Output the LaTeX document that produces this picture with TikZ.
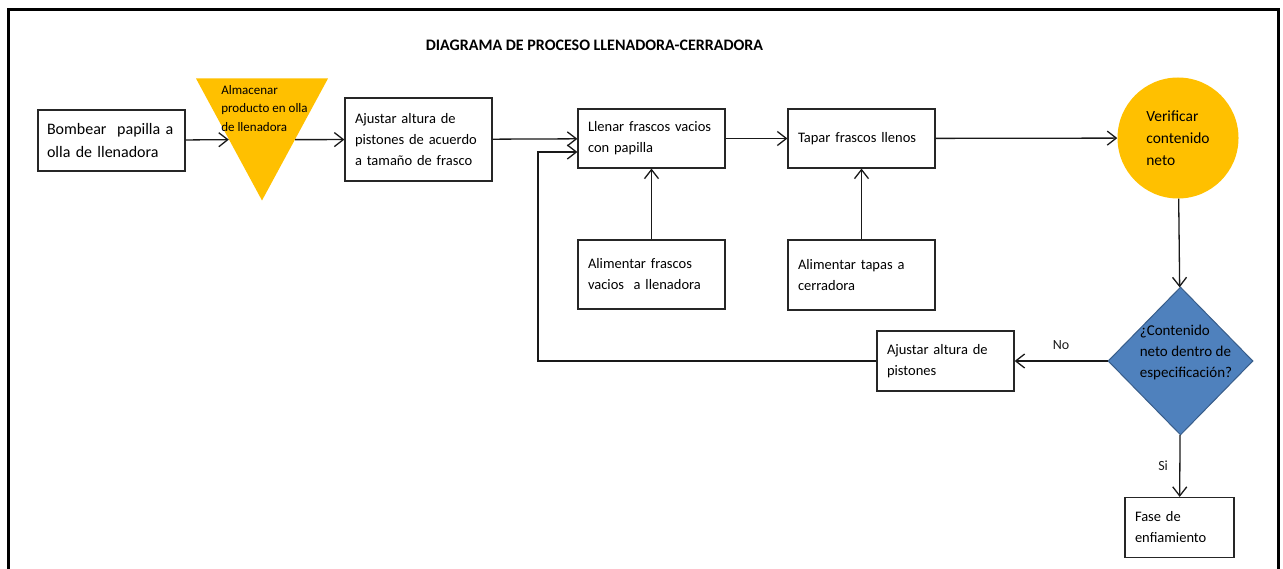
\documentclass[tikz,border=0pt]{standalone}
\usepackage{fontspec}
\setmainfont{Carlito}
\usetikzlibrary{shapes.geometric, arrows.meta}
\definecolor{amarillo}{HTML}{FFC000}
\definecolor{azul}{HTML}{4F81BD}
\definecolor{azulborde}{HTML}{385D8A}

\begin{document}
\begin{tikzpicture}[x=1pt, y=-1pt,
    caja/.style={rectangle, draw=black!85, line width=1.2pt, inner xsep=10pt, align=left, font=\fontsize{14.5}{21}\selectfont},
    flecha/.style={-{Straight Barb[length=9pt, width=14pt]}, line width=1.3pt, black!90},
    etiqueta/.style={font=\fontsize{14}{17}\selectfont}]
    \useasboundingbox (0,0) rectangle (1283,569);
    % marco
    \draw[line width=3pt] (8,569) -- (8,10) -- (1278,10) -- (1278,569);
    \node[font=\fontsize{16}{19}\selectfont\bfseries] (titulo) at (594.5,45) {DIAGRAMA DE PROCESO LLENADORA-CERRADORA};

    % linea principal
    \node[caja, inner xsep=9pt, text width=129pt, minimum height=61pt, font=\fontsize{16}{23}\selectfont] (a) at (111.5,140.5) {Bombear\ \ papilla a\\olla de llenadora};
    \node[isosceles triangle, isosceles triangle stretches, shape border rotate=270, fill=amarillo, minimum width=132pt, minimum height=122pt, inner sep=0pt, anchor=apex] (b) at (262,201) {};
    \node[align=left, font=\fontsize{13}{18.5}\selectfont, inner sep=0pt] (bt) at (264.5,108.5) {Almacenar\\producto en olla\\de llenadora};
    \node[caja, text width=127pt, minimum height=83pt] (c) at (418.5,139.5) {Ajustar altura de\\pistones de acuerdo\\a tamaño de frasco};
    \node[caja, text width=127pt, minimum height=59pt] (d) at (651.5,138.5) {Llenar frascos vacios\\con papilla};
    \node[caja, text width=127pt, minimum height=59pt] (e) at (861.5,138.5) {Tapar frascos llenos};
    \node[circle, fill=amarillo, minimum size=121pt, align=left, font=\fontsize{15.5}{22}\selectfont] (f) at (1178,138) {Verificar\\contenido\\neto};

    % alimentacion
    \node[caja, text width=127pt, minimum height=69pt] (g) at (651.5,274.5) {Alimentar frascos\\vacios\ \ a llenadora};
    \node[caja, text width=127pt, minimum height=70pt] (h) at (861.5,275) {Alimentar tapas a\\cerradora};

    % decision
    \node[diamond, fill=azul, draw=azulborde, line width=1pt, minimum width=145pt, minimum height=148pt, inner sep=0pt] (i) at (1180.5,361) {};
    \node[align=left, font=\fontsize{15}{21}\selectfont, inner sep=0pt] (it) at (1186,353) {¿Contenido\\neto dentro de\\especificación?};
    \node[caja, text width=117pt, minimum height=60pt] (j) at (945.5,361) {Ajustar altura de\\pistones};
    \node[caja, text width=89pt, minimum height=60pt] (k) at (1179.5,527.5) {Fase de\\enfiamiento};

    \draw[flecha] (a) -- (b.right side);
    \draw[flecha] (b.left side) -- (c);
    \draw[flecha] (c) -- (d);
    \draw[flecha] (d) -- (e);
    \draw[flecha] (e) -- (f);
    \draw[flecha] (g) -- (d);
    \draw[flecha] (h) -- (e);
    \draw[flecha] (f) -- (i);
    \draw[flecha] (i) -- node[etiqueta, above=7pt] (no) {No} (j);
    \draw[flecha] (i) -- node[etiqueta, left=8pt] (si) {Si} (k);
    \coordinate (r) at (538,152);
    \draw[flecha] (j.west) -| (r) -- (r -| d.west);
\end{tikzpicture}
\end{document}
